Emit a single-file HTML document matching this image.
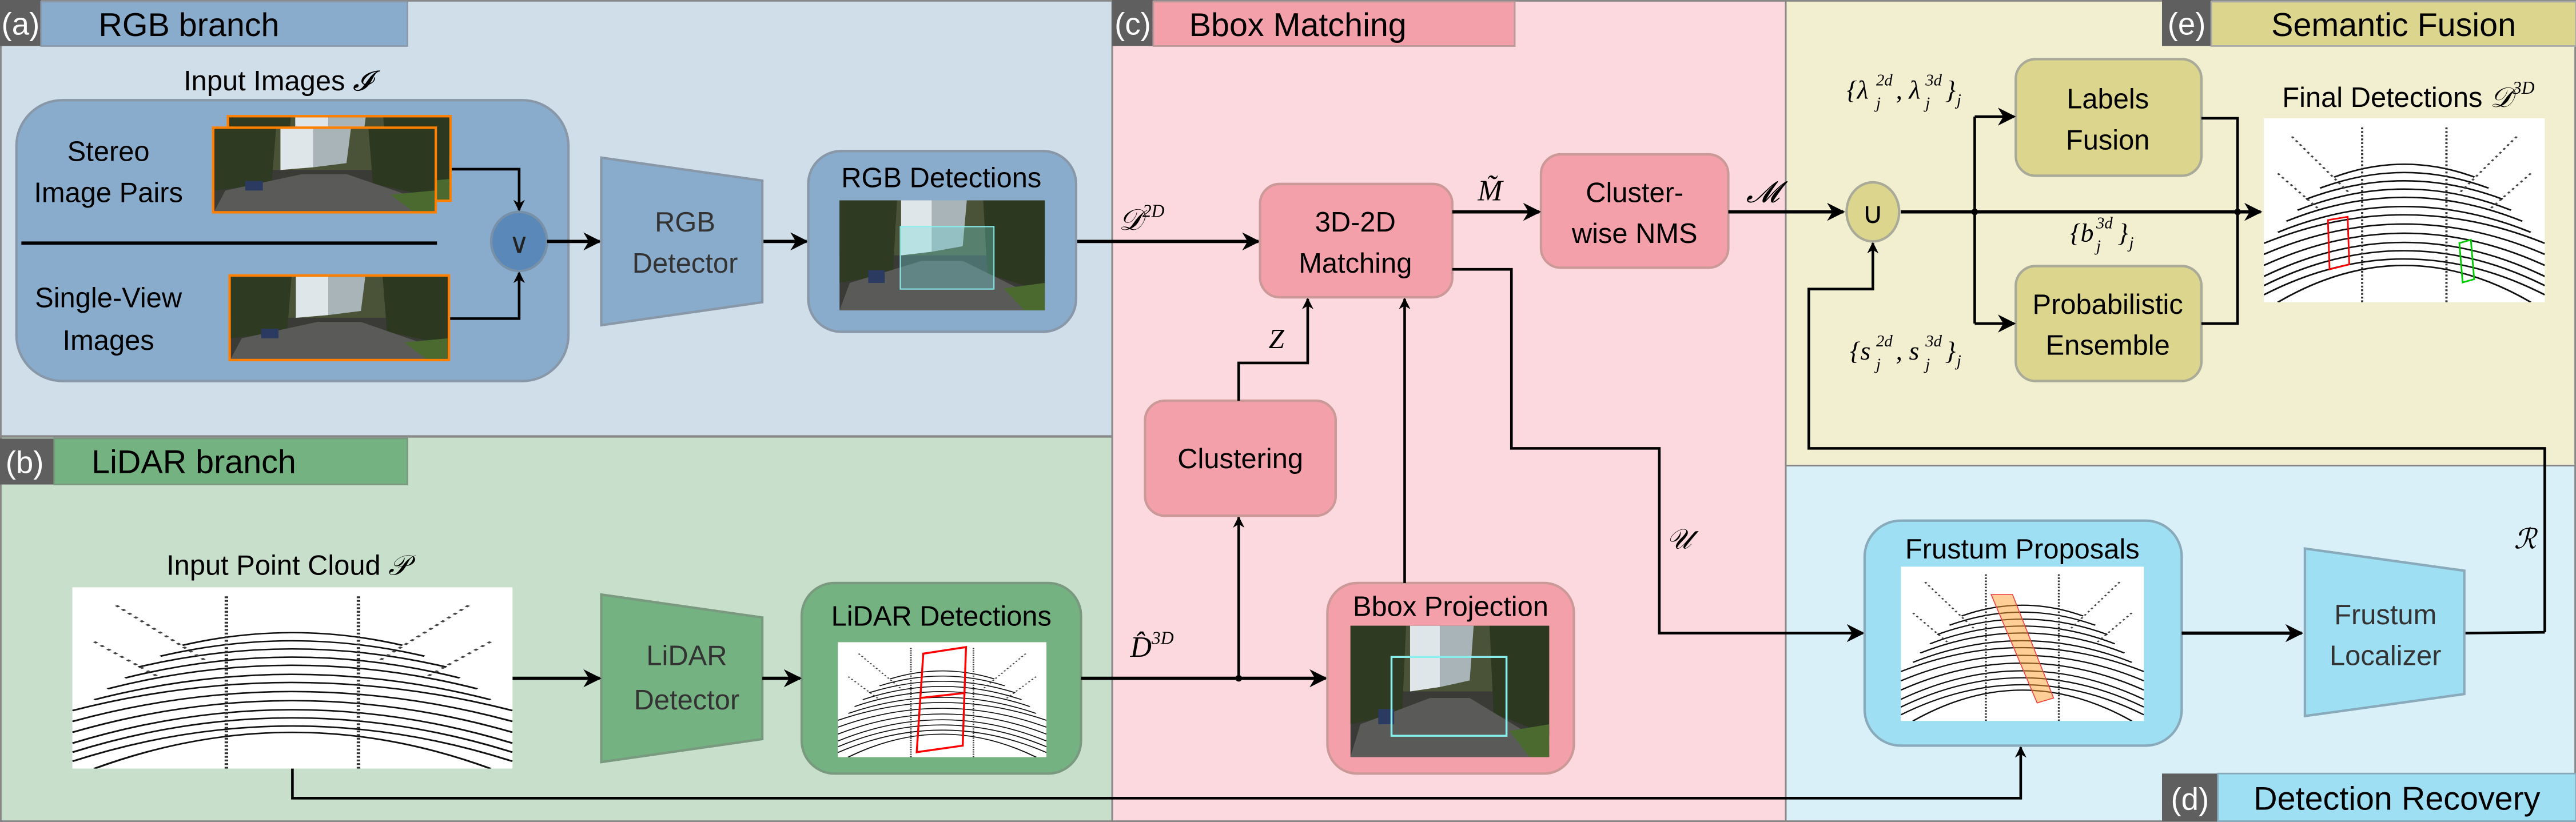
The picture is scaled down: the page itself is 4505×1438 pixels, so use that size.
<!DOCTYPE html>
<html><head><meta charset="utf-8"><style>html,body{margin:0;padding:0;background:#fff}svg{display:block}</style></head>
<body>
<svg width="4505" height="1438" viewBox="0 0 1568 500.5" preserveAspectRatio="none" xmlns="http://www.w3.org/2000/svg" font-family="Liberation Sans, sans-serif">
<defs>
<marker id="ah" viewBox="0 0 10 10" refX="9" refY="5" markerWidth="7" markerHeight="7" markerUnits="userSpaceOnUse" orient="auto"><path d="M0,0 L10,5 L0,10 L3,5 z" fill="#000"/></marker>
<marker id="ah2" viewBox="0 0 10 10" refX="9" refY="5" markerWidth="11" markerHeight="11" markerUnits="userSpaceOnUse" orient="auto"><path d="M0,0 L10,5 L0,10 L3,5 z" fill="#000"/></marker>
<symbol id="road" viewBox="0 0 100 60" preserveAspectRatio="none">
<rect width="100" height="60" fill="#3a3a36"/>
<rect width="100" height="30" fill="#4a5238"/>
<path d="M30,0 L45,0 L45,28 L30,30z" fill="#dfe6ea"/>
<path d="M45,0 L62,0 L60,25 L45,28z" fill="#a8b4b8"/>
<path d="M0,0 L28,0 L26,40 L0,45z" fill="#2f3a22"/>
<path d="M70,0 L100,0 L100,50 L72,40z" fill="#2c3820"/>
<path d="M5,45 L40,33 L60,33 L100,55 L100,60 L0,60z" fill="#5a5a58"/>
<path d="M80,48 L100,45 L100,60 L90,60z" fill="#4a6a30"/>
<rect x="14" y="38" width="8" height="7" fill="#2a3a60"/>
</symbol>
<symbol id="pc" viewBox="0 0 100 100" preserveAspectRatio="none">
<rect width="100" height="100" fill="#fff"/>
<g fill="none" stroke="#111" stroke-width="0.8">
<path d="M5,100 Q50,60 95,100"/><path d="M0,96 Q50,57 100,96"/><path d="M0,91 Q50,53 100,91"/><path d="M0,86 Q50,49 100,86"/><path d="M0,80 Q50,45 100,80"/><path d="M0,74 Q50,41 100,74"/><path d="M0,68 Q50,37 100,68"/><path d="M5,62 Q50,34 95,62"/><path d="M8,56 Q50,30 92,56"/><path d="M12,50 Q50,27 88,50"/><path d="M15,44 Q50,24 85,44"/><path d="M20,38 Q50,21 80,38"/><path d="M25,32 Q50,18 75,32"/>
<path d="M10,10 L30,40 M90,10 L70,40 M5,30 L20,50 M95,30 L80,50" stroke="#444" stroke-dasharray="1 1.5"/>
<path d="M35,5 L35,100 M65,5 L65,100" stroke="#333" stroke-dasharray="1 1"/>
</g>
</symbol>
</defs>

<!-- panels -->
<rect x="0.5" y="0.5" width="676.5" height="265" fill="#d0deea" stroke="#888"/>
<rect x="0.5" y="266" width="676.5" height="234" fill="#c8e0cb" stroke="#888"/>
<rect x="677" y="0.5" width="410" height="499.5" fill="#fcd9de" stroke="#888"/>
<rect x="1087" y="0.5" width="480.5" height="283" fill="#f1efd0" stroke="#888"/>
<rect x="1087" y="283.5" width="480.5" height="216.5" fill="#d9f0f9" stroke="#888"/>

<!-- tabs -->
<rect x="0" y="0" width="25" height="28" fill="#5f5f5f"/><text x="12.5" y="21" font-size="19" fill="#fff" text-anchor="middle">(a)</text>
<rect x="25" y="1" width="223" height="27" fill="#8aaccc" stroke="#8a9aaa"/><text x="115" y="22" font-size="20" text-anchor="middle">RGB branch</text>
<rect x="0" y="267" width="33" height="28" fill="#5f5f5f"/><text x="15" y="288" font-size="19" fill="#fff" text-anchor="middle">(b)</text>
<rect x="33" y="267" width="215" height="28" fill="#74b282" stroke="#7a9a80"/><text x="118" y="288" font-size="20" text-anchor="middle">LiDAR branch</text>
<rect x="677" y="0" width="25" height="28" fill="#5f5f5f"/><text x="689.5" y="21" font-size="19" fill="#fff" text-anchor="middle">(c)</text>
<rect x="702" y="1" width="220" height="27" fill="#f4a0aa" stroke="#b99"/><text x="790" y="22" font-size="20" text-anchor="middle">Bbox Matching</text>
<rect x="1316" y="0" width="30" height="28" fill="#5f5f5f"/><text x="1331" y="21" font-size="19" fill="#fff" text-anchor="middle">(e)</text>
<rect x="1346" y="1" width="222" height="27" fill="#dcd58e" stroke="#aaa"/><text x="1457" y="22" font-size="20" text-anchor="middle">Semantic Fusion</text>
<rect x="1316" y="471" width="34" height="29" fill="#5f5f5f"/><text x="1333" y="493" font-size="19" fill="#fff" text-anchor="middle">(d)</text>
<rect x="1350" y="471" width="218" height="29" fill="#9fdff3" stroke="#8ab"/><text x="1459" y="493" font-size="20" text-anchor="middle">Detection Recovery</text>

<!-- RGB branch -->
<text x="169" y="55" font-size="17" text-anchor="middle">Input Images <tspan font-family="Liberation Serif, serif" font-style="italic">𝓘</tspan></text>
<rect x="10" y="61" width="336" height="171" rx="28" fill="#8aaccc" stroke="#8898a8" stroke-width="1.5"/>
<rect x="138" y="70" width="137" height="53" fill="#ff8000"/><use href="#road" x="139.5" y="71.5" width="134" height="50"/>
<rect x="129" y="77" width="137" height="53" fill="#ff8000"/><use href="#road" x="130.5" y="78.5" width="134" height="50"/>
<rect x="139" y="167" width="135" height="53" fill="#ff8000"/><use href="#road" x="140.5" y="168.5" width="132" height="50"/>
<text font-size="17" text-anchor="middle"><tspan x="66" y="98">Stereo</tspan><tspan x="66" y="123">Image Pairs</tspan><tspan x="66" y="187">Single-View</tspan><tspan x="66" y="213">Images</tspan></text>
<line x1="13" y1="148" x2="266" y2="148" stroke="#000" stroke-width="2"/>
<ellipse cx="316" cy="147" rx="17" ry="18" fill="#5a88b8" stroke="#7890a8" stroke-width="1.5"/>
<text x="316" y="154" font-size="17" text-anchor="middle" fill="#222">∨</text>
<g fill="none" stroke="#000" stroke-width="1.6">
<polyline points="275,103 316,103 316,128" marker-end="url(#ah)"/>
<polyline points="274,194 316,194 316,166" marker-end="url(#ah)"/>
<line x1="333" y1="147" x2="365" y2="147" stroke-width="2" marker-end="url(#ah2)"/>
<line x1="464" y1="147" x2="491" y2="147" stroke-width="2" marker-end="url(#ah2)"/>
<line x1="655" y1="147" x2="766" y2="147" stroke-width="2" marker-end="url(#ah2)"/>
</g>
<polygon points="366,96 464,110 464,184 366,198" fill="#8aaccc" stroke="#8898a8" stroke-width="1.5"/>
<text font-size="17" text-anchor="middle" fill="#333"><tspan x="417" y="141">RGB</tspan><tspan x="417" y="166">Detector</tspan></text>
<rect x="492" y="92" width="163" height="110" rx="20" fill="#8aaccc" stroke="#8898a8" stroke-width="1.5"/>
<text x="573" y="114" font-size="17" text-anchor="middle">RGB Detections</text>
<use href="#road" x="511" y="122" width="125" height="67"/>
<rect x="548" y="138" width="57" height="38" fill="#6fd8d8" fill-opacity="0.35" stroke="#8ee" stroke-width="0.7"/>

<!-- LiDAR branch -->
<text x="175" y="350" font-size="17" text-anchor="middle">Input Point Cloud <tspan font-family="Liberation Serif, serif" font-style="italic">𝒫</tspan></text>
<use href="#pc" x="44" y="357.6" width="268" height="110.4"/>
<polygon points="366,362 464,376 464,450 366,464" fill="#74b282" stroke="#7a9a80" stroke-width="1.5"/>
<text font-size="17" text-anchor="middle" fill="#333"><tspan x="418" y="405">LiDAR</tspan><tspan x="418" y="432">Detector</tspan></text>
<rect x="488" y="355" width="170" height="116" rx="20" fill="#74b282" stroke="#7a9a80" stroke-width="1.5"/>
<text x="573" y="381" font-size="17" text-anchor="middle">LiDAR Detections</text>
<use href="#pc" x="510" y="391" width="127" height="70"/>
<polygon points="562,398 588,394 586,454 558,458" fill="none" stroke="#f00" stroke-width="1.2"/>
<line x1="560" y1="425" x2="587" y2="422" stroke="#f00" stroke-width="1.2"/>
<g fill="none" stroke="#000" stroke-width="2">
<line x1="312" y1="413" x2="365" y2="413" marker-end="url(#ah2)"/>
<line x1="464" y1="413" x2="487" y2="413" marker-end="url(#ah2)"/>
<line x1="658" y1="413" x2="807" y2="413" marker-end="url(#ah2)"/>
<line x1="754" y1="413" x2="754" y2="315" stroke-width="1.6" marker-end="url(#ah)"/>
<polyline points="178,468 178,486 1230,486 1230,455" stroke-width="1.6" marker-end="url(#ah)"/>
</g>
<circle cx="754" cy="413" r="2" fill="#000"/>
<text x="688" y="400" font-size="18" font-family="Liberation Serif, serif" font-style="italic">D̂<tspan font-size="11" dy="-8">3D</tspan></text>

<!-- Bbox matching -->
<text x="681" y="140" font-size="18" font-family="Liberation Serif, serif" font-style="italic">𝒟<tspan font-size="11" dy="-8">2D</tspan></text>
<rect x="767" y="112" width="117" height="69" rx="12" fill="#f4a0aa" stroke="#c99" stroke-width="1.5"/>
<text font-size="17" text-anchor="middle"><tspan x="825" y="141">3D-2D</tspan><tspan x="825" y="166">Matching</tspan></text>
<rect x="938" y="94" width="114" height="69" rx="12" fill="#f4a0aa" stroke="#c99" stroke-width="1.5"/>
<text font-size="17" text-anchor="middle"><tspan x="995" y="123">Cluster-</tspan><tspan x="995" y="148">wise NMS</tspan></text>
<text x="907" y="122" font-size="18" font-family="Liberation Serif, serif" font-style="italic" text-anchor="middle">M̃</text>
<text x="1073" y="123" font-size="18" font-family="Liberation Serif, serif" font-style="italic" text-anchor="middle">𝓜</text>
<rect x="697" y="244" width="116" height="70" rx="12" fill="#f4a0aa" stroke="#c99" stroke-width="1.5"/>
<text x="755" y="285" font-size="17" text-anchor="middle">Clustering</text>
<text x="777" y="212" font-size="17" font-family="Liberation Serif, serif" font-style="italic" text-anchor="middle">Z</text>
<rect x="808" y="355" width="150" height="116" rx="18" fill="#f4a0aa" stroke="#c99" stroke-width="1.5"/>
<text x="883" y="375" font-size="17" text-anchor="middle">Bbox Projection</text>
<use href="#road" x="822" y="381" width="121" height="80"/>
<rect x="847" y="400" width="70" height="48" fill="none" stroke="#8ee" stroke-width="1.2"/>
<text x="1022" y="334" font-size="17" font-family="Liberation Serif, serif" font-style="italic" text-anchor="middle">𝒰</text>
<g fill="none" stroke="#000" stroke-width="1.6">
<line x1="884" y1="129" x2="937" y2="129" stroke-width="2" marker-end="url(#ah2)"/>
<line x1="1052" y1="129" x2="1122" y2="129" stroke-width="2" marker-end="url(#ah2)"/>
<polyline points="754,244 754,221 796,221 796,182" marker-end="url(#ah)"/>
<line x1="855" y1="355" x2="855" y2="182" marker-end="url(#ah)"/>
<polyline points="884,164 920,164 920,273 1010,273 1010,385.5 1134,385.5" marker-end="url(#ah2)"/>
</g>

<!-- Semantic fusion -->
<ellipse cx="1140" cy="129" rx="16" ry="18" fill="#dcd58e" stroke="#aa9" stroke-width="1.5"/>
<text x="1140" y="136" font-size="18" text-anchor="middle">∪</text>
<rect x="1227" y="36" width="113" height="71" rx="12" fill="#dcd58e" stroke="#aa9" stroke-width="1.5"/>
<text font-size="17" text-anchor="middle"><tspan x="1283" y="66">Labels</tspan><tspan x="1283" y="91">Fusion</tspan></text>
<rect x="1227" y="162" width="113" height="70" rx="12" fill="#dcd58e" stroke="#aa9" stroke-width="1.5"/>
<text font-size="17" text-anchor="middle"><tspan x="1283" y="191">Probabilistic</tspan><tspan x="1283" y="216">Ensemble</tspan></text>
<g fill="none" stroke="#000" stroke-width="1.6">
<line x1="1157" y1="129" x2="1376" y2="129" stroke-width="2" marker-end="url(#ah2)"/>
<line x1="1202" y1="71" x2="1202" y2="197"/>
<line x1="1202" y1="71" x2="1226" y2="71" marker-end="url(#ah2)"/>
<line x1="1202" y1="197" x2="1226" y2="197" marker-end="url(#ah2)"/>
<polyline points="1340,72 1362,72 1362,197 1340,197"/>
<polyline points="1549,385 1549,273 1101,273 1101,176 1140,176 1140,148" marker-end="url(#ah)"/>
<line x1="1500" y1="385.5" x2="1549" y2="385"/>
</g>
<circle cx="1202" cy="129" r="2" fill="#000"/><circle cx="1362" cy="129" r="2" fill="#000"/>
<g font-family="Liberation Serif, serif" font-style="italic">
<text x="1124" y="60" font-size="16">{λ</text><text x="1142" y="52" font-size="10">2d</text><text x="1142" y="66" font-size="10">j</text>
<text x="1154" y="60" font-size="16">, λ</text><text x="1172" y="52" font-size="10">3d</text><text x="1172" y="66" font-size="10">j</text>
<text x="1184" y="60" font-size="16">}</text><text x="1191" y="64" font-size="10">j</text>
<text x="1126" y="219" font-size="16">{s</text><text x="1142" y="211" font-size="10">2d</text><text x="1142" y="225" font-size="10">j</text>
<text x="1154" y="219" font-size="16">, s</text><text x="1172" y="211" font-size="10">3d</text><text x="1172" y="225" font-size="10">j</text>
<text x="1184" y="219" font-size="16">}</text><text x="1191" y="223" font-size="10">j</text>
<text x="1260" y="147" font-size="16">{b</text><text x="1276" y="139" font-size="10">3d</text><text x="1276" y="153" font-size="10">j</text>
<text x="1289" y="147" font-size="16">}</text><text x="1296" y="151" font-size="10">j</text>
</g>
<text x="1466" y="65" font-size="17" text-anchor="middle">Final Detections <tspan font-family="Liberation Serif, serif" font-style="italic">𝒟</tspan><tspan font-size="11" dy="-8" font-family="Liberation Serif, serif" font-style="italic">3D</tspan></text>
<use href="#pc" x="1378" y="72" width="171" height="112"/>
<polygon points="1417,134 1429,132 1430,161 1418,164" fill="none" stroke="#f00" stroke-width="1"/>
<polygon points="1497,148 1504,146 1506,170 1499,172" fill="none" stroke="#0c0" stroke-width="1"/>

<!-- Detection recovery -->
<rect x="1135" y="317" width="193" height="137" rx="22" fill="#9fdff3" stroke="#8ab" stroke-width="1.5"/>
<text x="1231" y="340" font-size="17" text-anchor="middle">Frustum Proposals</text>
<use href="#pc" x="1157" y="345" width="148" height="94"/>
<polygon points="1212,362 1225,362 1250,425 1240,428" fill="#ffa030" fill-opacity="0.5" stroke="#e44" stroke-width="0.6"/>
<line x1="1328" y1="385.5" x2="1401" y2="385.5" stroke="#000" stroke-width="2" marker-end="url(#ah2)"/>
<polygon points="1403,334 1500,347.5 1500,422.6 1403,436" fill="#9fdff3" stroke="#8ab" stroke-width="1.5"/>
<text font-size="17" text-anchor="middle" fill="#333"><tspan x="1452" y="380">Frustum</tspan><tspan x="1452" y="405">Localizer</tspan></text>
<text x="1537" y="334" font-size="17" font-family="Liberation Serif, serif" font-style="italic" text-anchor="middle">ℛ</text>
</svg>
</body></html>
